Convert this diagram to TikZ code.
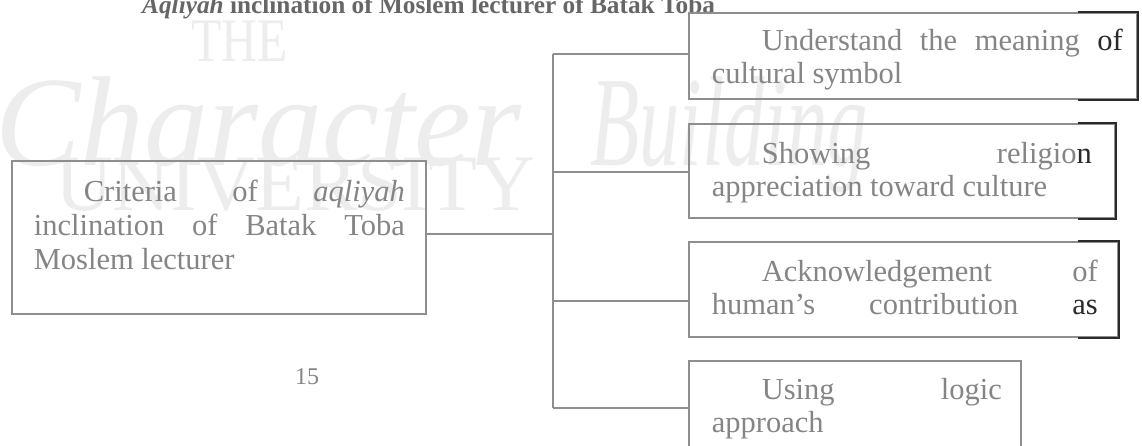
\documentclass[tikz,border=0pt]{standalone}
\usepackage{fontspec}
\usepackage{graphicx}
\setmainfont{Liberation Serif}
\usetikzlibrary{calc}
\definecolor{ink}{HTML}{858585}
\definecolor{edge}{HTML}{8E8E8E}
\definecolor{dark}{HTML}{2A2A2A}
\definecolor{wmark}{HTML}{EDEDED}
\definecolor{head}{HTML}{666666}
\newcommand\jline[1]{\hbox to \hsize{#1}}
\begin{document}
\begin{tikzpicture}[x=1pt,y=-1pt,
  box/.style={draw=edge, line width=1.6pt, anchor=north west, inner sep=0pt, text=ink, font=\fontsize{30.5}{33}\selectfont},
  conn/.style={draw=edge, line width=1.6pt},
  darkedge/.style={draw=dark, line width=1.8pt},
  wm/.style={text=wmark, inner sep=0pt, anchor=base west},
]
\useasboundingbox (0,0) rectangle (1142,445);
\clip (0,0) rectangle (1142,445);
\fill[white] (0,0) rectangle (1142,445);

% watermark
\node[wm, font=\fontsize{62}{62}\selectfont] (wthe) at (191,61) {\scalebox{0.8}[1]{THE}};
\node[wm, font=\itshape\fontsize{128}{128}\selectfont] (wchar) at (-5,165) {Character};
\node[wm, font=\itshape\fontsize{128}{128}\selectfont] (wbuild) at (590,165) {\scalebox{0.63}[1]{Building}};
\node[wm, font=\fontsize{80}{80}\selectfont] (wuni) at (55,210) {UNIVERSITY};

% header
\node[anchor=base west, inner sep=0pt, text=head, font=\bfseries\fontsize{25.3}{25.3}\selectfont] (title) at (142,13) {\textit{Aqliyah} inclination of Moslem lecturer of Batak Toba};

% boxes
\node[box, text height=41pt, text depth=112pt, font=\fontsize{30.5}{34}\selectfont] (m) at (11,160)
 {\vtop{\hsize=414pt
  \jline{\hskip72pt Criteria\hfill of\hfill \textit{aqliyah}\hskip21pt}
  \jline{\hskip22pt inclination\hfill of\hfill Batak\hfill Toba\hskip21pt}
  \jline{\hskip22pt Moslem lecturer\hfill}}};
\node[box, text height=38pt, text depth=48pt] (b1) at (688,12)
 {\vtop{\hsize=448pt
  \jline{\hskip73pt Understand\hfill the\hfill meaning\hfill \textcolor{dark}{of}\hskip14pt}
  \jline{\hskip23pt cultural symbol\hfill}}};
\node[box, text height=40pt, text depth=54pt] (b2) at (688,123)
 {\vtop{\hsize=426pt
  \jline{\hskip73pt Showing\hfill religio\textcolor{dark}{n}\hskip23pt}
  \jline{\hskip23pt appreciation toward culture\hfill}}};
\node[box, text height=40pt, text depth=55pt] (b3) at (688,241)
 {\vtop{\hsize=429pt
  \jline{\hskip73pt Acknowledgement\hfill of\hskip20pt}
  \jline{\hskip23pt human’s\hfill contribution\hfill \textcolor{dark}{as}\hskip20pt}}};
\node[box, text height=39pt, text depth=62pt] (b4) at (688,360)
 {\vtop{\hsize=332pt
  \jline{\hskip73pt Using\hfill logic\hskip19pt}
  \jline{\hskip23pt approach\hfill}}};

% connectors
\coordinate (s0) at (553,234);
\coordinate (s1) at (553,54);
\coordinate (s2) at (553,172);
\coordinate (s3) at (553,301);
\coordinate (s4) at (553,408);
\draw[conn] (m.east |- s0) -- (s0);
\draw[conn] (s1) -- (s4);
\draw[conn] (s1) -- (s1 -| b1.west);
\draw[conn] (s2) -- (s2 -| b2.west);
\draw[conn] (s3) -- (s3 -| b3.west);
\draw[conn] (s4) -- (s4 -| b4.west);

% darker scanned edges
\draw[darkedge] ([xshift=-60pt]b1.north east) -- (b1.north east) -- (b1.south east) -- ([xshift=-60pt]b1.south east);
\draw[darkedge] ([xshift=-38pt]b2.north east) -- (b2.north east) -- (b2.south east) -- ([xshift=-38pt]b2.south east);
\draw[darkedge] ([xshift=-41pt]b3.north east) -- (b3.north east) -- (b3.south east) -- ([xshift=-41pt]b3.south east);

% page number
\node[anchor=base, inner sep=0pt, text=ink, font=\fontsize{24}{24}\selectfont] (pg) at (307,384) {15};
\end{tikzpicture}
\end{document}
